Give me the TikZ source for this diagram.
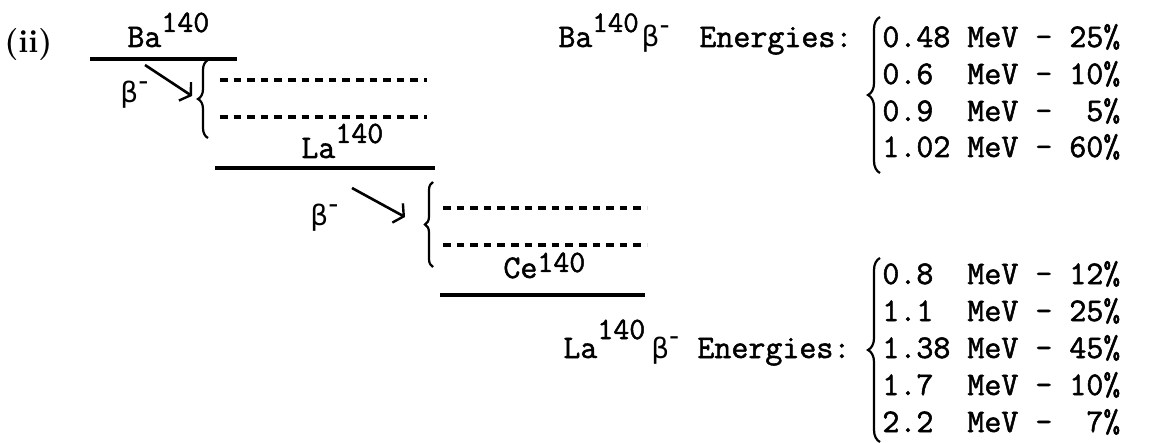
\documentclass[tikz,border=0pt]{standalone}
\usepackage{fontspec}
\setmonofont{Latin Modern Mono}[FakeBold=1.6]
\newfontfamily\grk{DejaVu Sans}
\usetikzlibrary{arrows.meta,decorations.pathreplacing}
\newcommand\supn[3]{\raisebox{#1}{\fontsize{#2}{#2}\selectfont #3}}
\newcommand\bmin{{\fontsize{14}{14}\grk β\raisebox{0.45em}{-}}}
\begin{document}
\begin{tikzpicture}[x=0.5pt,y=-0.5pt,
  lvl/.style={line width=1.7pt},
  dsh/.style={line width=1.8pt, dash pattern=on 3.8pt off 3pt},
  arr/.style={line width=1.3pt, -{Straight Barb[length=3.5pt,width=11pt,line width=1.2pt]}},
  brc/.style={line width=1.1pt, decorate, decoration={brace, amplitude=#1}},
  mono/.style={inner sep=0pt, anchor=base west, font=\fontsize{16.5}{18}\selectfont\ttfamily},
  glab/.style={inner sep=0pt, anchor=base west},
  boldlab/.style={inner sep=0pt, anchor=base west, font=\fontsize{16}{16}\selectfont\bfseries}]
\useasboundingbox (0,0) rectangle (1160,443);
% ---- left decay scheme ----
\node[boldlab] (ii) at (4,53) {(ii)};
% Ba level
\node[mono] (balab) at (127,47) {Ba\supn{7.5pt}{15.5}{140}};
\coordinate (baL) at (90,59);
\coordinate (baR) at (237,59);
\draw[lvl] (baL) -- (baR);
\node[glab] (beta1) at (120,103) {\bmin};
\coordinate (a1s) at (145,65);
\coordinate (a1e) at (192,96);
\draw[arr] (a1s) -- (a1e);
\coordinate (br1b) at (208,138);
\coordinate (br1t) at (208,60);
\draw[brc=5pt] (br1b) -- (br1t);
\coordinate (d1L) at (220,80);  \coordinate (d1R) at (427,80);
\coordinate (d2L) at (220,117); \coordinate (d2R) at (427,117);
\draw[dsh] (d1L) -- (d1R);
\draw[dsh] (d2L) -- (d2R);
% La level
\node[mono] (lalab) at (301,158) {La\supn{7.5pt}{15.5}{140}};
\coordinate (laL) at (215,168);
\coordinate (laR) at (435,168);
\draw[lvl] (laL) -- (laR);
\node[glab] (beta2) at (310,226) {\bmin};
\coordinate (a2s) at (352,188);
\coordinate (a2e) at (405,217);
\draw[arr] (a2s) -- (a2e);
\coordinate (br2b) at (433,267);
\coordinate (br2t) at (433,182);
\draw[brc=4pt] (br2b) -- (br2t);
\coordinate (d3L) at (443,208); \coordinate (d3R) at (647,208);
\coordinate (d4L) at (443,245); \coordinate (d4R) at (647,245);
\draw[dsh] (d3L) -- (d3R);
\draw[dsh] (d4L) -- (d4R);
% Ce level
\node[mono] (celab) at (503,278) {Ce\supn{3pt}{15.5}{140}};
\coordinate (ceL) at (440,295);
\coordinate (ceR) at (645,295);
\draw[lvl] (ceL) -- (ceR);
% ---- Ba energies ----
\node[mono] (bahdr) at (558,47) {Ba\supn{7.5pt}{15}{140}\kern1.5pt\bmin};
\node[mono] (baen) at (699,47) {Energies:};
\coordinate (br3b) at (880,173);
\coordinate (br3t) at (880,17);
\draw[brc=6pt] (br3b) -- (br3t);
\node[mono] (e1) at (882,47)  {0.48 MeV - 25\%};
\node[mono] (e2) at (882,84)  {0.6~~MeV - 10\%};
\node[mono] (e3) at (882,121) {0.9~~MeV -~~5\%};
\node[mono] (e4) at (882,157) {1.02 MeV - 60\%};
% ---- La energies ----
\node[mono] (lahdr) at (563,358) {La\supn{9.5pt}{15.5}{140}\kern3pt\bmin};
\node[mono] (laen) at (697,358) {Energies:};
\coordinate (br4b) at (880,442);
\coordinate (br4t) at (880,258);
\draw[brc=6pt] (br4b) -- (br4t);
\node[mono] (f1) at (882,284) {0.8~~MeV - 12\%};
\node[mono] (f2) at (882,321) {1.1~~MeV - 25\%};
\node[mono] (f3) at (882,358) {1.38 MeV - 45\%};
\node[mono] (f4) at (882,395) {1.7~~MeV - 10\%};
\node[mono] (f5) at (882,432) {2.2~~MeV -~~7\%};
\end{tikzpicture}
\end{document}
